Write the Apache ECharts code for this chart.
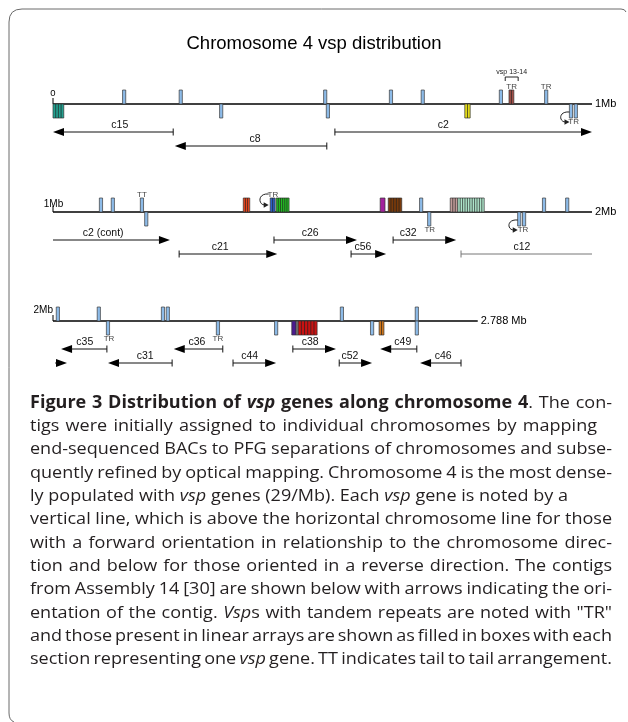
<!DOCTYPE html>
<html>
<head>
<meta charset="utf-8">
<title>Chromosome 4 vsp distribution</title>
<script src="https://cdn.jsdelivr.net/npm/echarts@6/dist/echarts.min.js"></script>
<style>
  html, body { margin: 0; padding: 0; background: #fff; }
  #chart { width: 628px; height: 722px; }
</style>
</head>
<body>
<div id="chart"></div>
<script>
// all positions are in kb along chromosome 4, drawn in rows of 1 Mb
const rowStarts = [0, 1000, 2000];
const rowEnds = [1000, 2000, 2788];
const rowStartLabels = ['0', '1Mb', '2Mb'];
const rowEndLabels = ['1Mb', '2Mb', '2.788 Mb'];

// single vsp genes, forward (above the line) and reverse (below)
const forwardGenes = [132, 237, 505, 627, 686, 831, 915,
                      1089, 1111, 1165, 1683, 1911, 1954,
                      2009, 2085, 2204, 2213, 2536, 2675];
const reverseGenes = [312, 510, 961, 970,
                      1173, 1698, 1865, 1874,
                      2102, 2306, 2414, 2592, 2675];

// linear arrays: [start, end, strand, number of genes]
const geneArrays = [
    [0, 20, 1, 4],
    [846, 855, -1, 2],
    [764, 774, 1, 2],
    [1353, 1365, -1, 3],
    [1403, 1412, -1, 2],
    [1414, 1438, -1, 6],
    [1607, 1616, -1, 1],
    [1622, 1647, -1, 5],
    [1737, 1751, -1, 3],
    [1751, 1800, -1, 11],
    [2443, 2451, 1, 1],
    [2451, 2455, 1, 1],
    [2455, 2490, 1, 6],
    [2605, 2614, 1, 2]
];
const arrayColors = ['#23a08f', '#a24f48', '#e4dc1a', '#e8451c', '#2c5fc4', '#22bd22', '#a3229c',
                     '#7a3a0a', '#c29c9a', '#aee6cb', '#4b1b8e', '#8a8a8a', '#c81212', '#d0771c'];

// contigs of Assembly 14: [name, start, end, direction, track, label at, arrowhead, end bar]
const contigs = [
    ['c15', 0, 223, -1, 2, 124, true, true],
    ['c8', 226, 508, -1, 3, 375, true, true],
    ['c2', 523, 1000, 1, 2, 724, true, true],
    ['c2 (cont)', 1000, 1217, 1, 2, 1093, true, false],
    ['c21', 1234, 1416, 1, 3, 1310, true, true],
    ['c26', 1410, 1564, 1, 2, 1477, true, true],
    ['c56', 1553, 1618, 1, 3, 1575, true, true],
    ['c32', 1631, 1748, 1, 2, 1659, true, true],
    ['c12', 1757, 2000, 1, 3, 1870, false, true],
    ['', 2004, 2026, 1, 3, null, true, false],
    ['c35', 2015, 2100, -1, 2, 2059, true, true],
    ['c31', 2102, 2221, -1, 3, 2171, true, true],
    ['c36', 2224, 2315, -1, 2, 2267, true, true],
    ['c44', 2334, 2414, 1, 3, 2365, true, true],
    ['c38', 2445, 2525, 1, 2, 2477, true, true],
    ['c52', 2531, 2592, 1, 3, 2551, true, true],
    ['c49', 2607, 2675, -1, 2, 2649, true, true],
    ['c46', 2681, 2757, -1, 3, 2724, true, true]
];
const grayContigs = ['c12'];

// tandem repeat / tail-to-tail notes: [text, kb, side]
const repeatLabels = [
    ['TR', 851, -1], ['TR', 915, -1], ['TR', 966, 1],
    ['TT', 1165, -1], ['TR', 1408, -1], ['TR', 1699, 1], ['TR', 1872, 1],
    ['TR', 2104, 1], ['TR', 2306, 1]
];
// curved arrows next to inverted repeats: [kb, side]
const turnArrows = [[961, 1], [1403, -1], [1865, 1]];
const bracketLabels = [['vsp 13-14', 839, 863]];

const captionLines = [
    [['b', 'Figure 3 Distribution of '], ['bi', 'vsp'], ['b', ' genes along chromosome 4'], ['n', '. The con-']],
    [['n', 'tigs were initially assigned to individual chromosomes by mapping']],
    [['n', 'end-sequenced BACs to PFG separations of chromosomes and subse-']],
    [['n', 'quently refined by optical mapping. Chromosome 4 is the most dense-']],
    [['n', 'ly populated with '], ['i', 'vsp'], ['n', ' genes (29/Mb). Each '], ['i', 'vsp'], ['n', ' gene is noted by a']],
    [['n', 'vertical line, which is above the horizontal chromosome line for those']],
    [['n', 'with a forward orientation in relationship to the chromosome direc-']],
    [['n', 'tion and below for those oriented in a reverse direction. The contigs']],
    [['n', 'from Assembly 14 [30] are shown below with arrows indicating the ori-']],
    [['n', 'entation of the contig. '], ['i', 'Vsp'], ['n', 's with tandem repeats are noted with "TR"']],
    [['n', 'and those present in linear arrays are shown as filled in boxes with each']],
    [['n', 'section representing one '], ['i', 'vsp'], ['n', ' gene. TT indicates tail to tail arrangement.']]
];
// right edge of justified lines, null where the line is set ragged
const captionRight = [612, 597, 612, 612, null, 612, 612, 612, 612, 612, 612, 612];

const chartFont = '"Liberation Sans", Arial, sans-serif';
const capFont = '"Open Sans", sans-serif';
const capSize = 17;
const rowLineY = [104, 212, 321];
const unit = 14;          // px per y unit (gene height)
const pxPerKb = 0.539;

function rowOf(kb) {
    return kb < 1000 ? 0 : (kb < 2000 ? 1 : 2);
}

function txt(x, y, text, size, align, vAlign, color) {
    return {
        type: 'text', x: x, y: y,
        style: {
            text: text, fontSize: size, fontFamily: chartFont, fill: color || '#000',
            align: align, textAlign: align, verticalAlign: vAlign, textVerticalAlign: vAlign
        }
    };
}

const chart = echarts.init(document.getElementById('chart'));

const grids = [], xAxes = [], yAxes = [], series = [];
rowStarts.forEach(function (start, r) {
    grids.push({
        left: 53, top: rowLineY[r] - 2 * unit, height: 5.5 * unit,
        width: (rowEnds[r] - start) * pxPerKb
    });
    xAxes.push({ type: 'value', gridIndex: r, min: start, max: rowEnds[r], show: false });
    yAxes.push({ type: 'value', gridIndex: r, min: -2, max: 3.5, inverse: true, show: false });

    const base = { type: 'custom', coordinateSystem: 'cartesian2d', xAxisIndex: r, yAxisIndex: r, silent: true, clip: false };

    // chromosome line
    series.push(Object.assign({}, base, {
        data: [[start, rowEnds[r]]],
        renderItem: function (params, api) {
            const a = api.coord([api.value(0), 0]);
            const b = api.coord([api.value(1), 0]);
            const startLabel = r === 0 ? txt(a[0], a[1] - 11, rowStartLabels[r], 9.5, 'center', 'middle')
                : r === 1 ? txt(a[0] + 0.5, a[1] - 8, rowStartLabels[r], 10, 'center', 'middle')
                : txt(a[0], a[1] - 11, rowStartLabels[r], 10, 'right', 'middle');
            return {
                type: 'group',
                children: [
                    { type: 'line', shape: { x1: a[0], y1: a[1], x2: b[0], y2: b[1] }, style: { stroke: '#000', lineWidth: 1.6 } },
                    { type: 'line', shape: { x1: a[0], y1: a[1] - 6, x2: a[0], y2: a[1] }, style: { stroke: '#000', lineWidth: 1 } },
                    startLabel,
                    txt(b[0] + 3, b[1], rowEndLabels[r], 11, 'left', 'middle')
                ]
            };
        }
    }));

    // single genes
    const genes = forwardGenes.filter(function (g) { return rowOf(g) === r; }).map(function (g) { return [g, -1]; })
        .concat(reverseGenes.filter(function (g) { return rowOf(g) === r; }).map(function (g) { return [g, 1]; }));
    series.push(Object.assign({}, base, {
        data: genes,
        renderItem: function (params, api) {
            const p = api.coord([api.value(0), 0]);
            const q = api.coord([api.value(0), api.value(1)]);
            return {
                type: 'rect',
                shape: { x: p[0] - 1.6, y: Math.min(p[1], q[1]), width: 3.2, height: Math.abs(q[1] - p[1]) },
                style: { fill: '#8dbbe8', stroke: '#3a3a3a', lineWidth: 0.7 }
            };
        }
    }));

    // linear arrays of genes
    const arrIdx = [];
    geneArrays.forEach(function (g, i) { if (rowOf(g[0]) === r) arrIdx.push(i); });
    series.push(Object.assign({}, base, {
        data: arrIdx.map(function (i) { return geneArrays[i]; }),
        renderItem: function (params, api) {
            const color = arrayColors[arrIdx[params.dataIndex]];
            const side = api.value(2), n = api.value(3);
            const a = api.coord([api.value(0), 0]);
            const b = api.coord([api.value(1), side]);
            const y0 = Math.min(a[1], b[1]), h = Math.abs(b[1] - a[1]);
            const w = b[0] - a[0];
            const children = [{
                type: 'rect', shape: { x: a[0], y: y0, width: w, height: h },
                style: { fill: color, stroke: '#333', lineWidth: 0.7 }
            }];
            for (let k = 1; k < n; k++) {
                const x = a[0] + w * k / n;
                children.push({ type: 'line', shape: { x1: x, y1: y0, x2: x, y2: y0 + h }, style: { stroke: '#222', lineWidth: 0.7 } });
            }
            return { type: 'group', children: children };
        }
    }));

    // contigs with orientation arrows
    const cIdx = [];
    contigs.forEach(function (c, i) { if (rowOf(c[1]) === r) cIdx.push(i); });
    series.push(Object.assign({}, base, {
        data: cIdx.map(function (i) { return [contigs[i][1], contigs[i][2], contigs[i][4]]; }),
        renderItem: function (params, api) {
            const c = contigs[cIdx[params.dataIndex]];
            const color = grayContigs.indexOf(c[0]) >= 0 ? '#777' : '#111';
            const a = api.coord([c[1], c[4]]);
            const b = api.coord([c[2], c[4]]);
            const y = a[1];
            let x1 = a[0], x2 = b[0];
            const children = [];
            const headLen = 11, headHalf = 4;
            if (c[6]) {
                if (c[3] > 0) {
                    children.push({ type: 'polygon', shape: { points: [[b[0], y], [b[0] - headLen, y - headHalf], [b[0] - headLen, y + headHalf]] }, style: { fill: '#000' } });
                    x2 = b[0] - headLen + 1;
                } else {
                    children.push({ type: 'polygon', shape: { points: [[a[0], y], [a[0] + headLen, y - headHalf], [a[0] + headLen, y + headHalf]] }, style: { fill: '#000' } });
                    x1 = a[0] + headLen - 1;
                }
            }
            if (c[7]) {
                const bx = c[3] > 0 ? a[0] : b[0];
                children.push({ type: 'line', shape: { x1: bx, y1: y - 3.5, x2: bx, y2: y + 3.5 }, style: { stroke: color, lineWidth: 1 } });
            }
            children.push({ type: 'line', shape: { x1: x1, y1: y, x2: x2, y2: y }, style: { stroke: color, lineWidth: 1 } });
            if (c[5] !== null) {
                const l = api.coord([c[5], c[4]]);
                children.push(txt(l[0], y - 6.5, c[0], 10.5, 'center', 'middle', '#111'));
            }
            return { type: 'group', children: children };
        }
    }));

    // TR / TT notes
    const notes = repeatLabels.filter(function (t) { return rowOf(t[1]) === r; });
    series.push(Object.assign({}, base, {
        data: notes.map(function (t) { return [t[1], t[2]]; }),
        renderItem: function (params, api) {
            const p = api.coord([api.value(0), 0]);
            const side = api.value(1);
            return txt(p[0], p[1] + side * 17.5, notes[params.dataIndex][0], 8, 'center', 'middle', '#444');
        }
    }));

    // curved arrows for inverted tandem repeats
    series.push(Object.assign({}, base, {
        data: turnArrows.filter(function (t) { return rowOf(t[0]) === r; }),
        renderItem: function (params, api) {
            const p = api.coord([api.value(0), 0]);
            const side = api.value(1);
            const yTop = side > 0 ? p[1] + 8 : p[1] - 18;
            const yBot = side > 0 ? p[1] + 18 : p[1] - 7;
            const xr = p[0] - 1.5, xl = p[0] - 11;
            return {
                type: 'group',
                children: [
                    { type: 'bezierCurve', shape: { x1: xr, y1: yTop, cpx1: xl - 2, cpy1: yTop - 1, cpx2: xl - 1, cpy2: yBot, x2: xr - 4, y2: yBot }, style: { stroke: '#222', lineWidth: 1, fill: null } },
                    { type: 'polygon', shape: { points: [[xr, yBot], [xr - 5, yBot - 2.8], [xr - 5, yBot + 2.8]] }, style: { fill: '#222' } }
                ]
            };
        }
    }));

    // bracket note over an inverted pair
    const brackets = bracketLabels.filter(function (t) { return rowOf(t[1]) === r; });
    series.push(Object.assign({}, base, {
        data: brackets.map(function (t) { return [t[1], t[2]]; }),
        renderItem: function (params, api) {
            const a = api.coord([api.value(0), 0]);
            const b = api.coord([api.value(1), 0]);
            const y = a[1] - 27;
            return {
                type: 'group',
                children: [
                    { type: 'polyline', shape: { points: [[a[0], y + 4], [a[0], y], [b[0], y], [b[0], y + 4]] }, style: { stroke: '#222', lineWidth: 1, fill: null } },
                    txt((a[0] + b[0]) / 2, y - 5, brackets[params.dataIndex][0], 7, 'center', 'middle', '#222')
                ]
            };
        }
    }));
});

// caption: words placed one by one so that lines can be justified
const measureCtx = document.createElement('canvas').getContext('2d');
function segFont(kind) {
    return (kind.indexOf('i') >= 0 ? 'italic ' : '') + (kind.indexOf('b') >= 0 ? 'bold ' : '') + capSize + 'px ' + capFont;
}
function measure(kind, t) {
    measureCtx.font = segFont(kind);
    return measureCtx.measureText(t).width;
}
function lineWords(segs) {
    const words = [[]];
    segs.forEach(function (s) {
        s[1].split(' ').forEach(function (p, j) {
            if (j > 0) words.push([]);
            if (p) words[words.length - 1].push([s[0], p]);
        });
    });
    return words.filter(function (w) { return w.length; });
}
function wordWidth(w) {
    return w.reduce(function (sum, p) { return sum + measure(p[0], p[1]); }, 0);
}
const spaceW = measure('n', ' ');
const capWords = captionLines.map(lineWords);
// glyph condensing: median of the ratios that make justified lines fit with natural spaces
const ratios = [];
capWords.forEach(function (words, i) {
    if (!captionRight[i]) return;
    const nat = words.reduce(function (s, w) { return s + wordWidth(w); }, 0) + spaceW * (words.length - 1);
    ratios.push((captionRight[i] - 30) / nat);
});
ratios.sort(function (a, b) { return a - b; });
const capScale = ratios[Math.floor(ratios.length / 2)];

const capRich = {
    n: { fontSize: capSize, fontFamily: capFont, fill: '#231f20', color: '#231f20' },
    b: { fontSize: capSize, fontFamily: capFont, fontWeight: 'bold', fill: '#231f20', color: '#231f20' },
    i: { fontSize: capSize, fontFamily: capFont, fontStyle: 'italic', fill: '#231f20', color: '#231f20' },
    bi: { fontSize: capSize, fontFamily: capFont, fontWeight: 'bold', fontStyle: 'italic', fill: '#231f20', color: '#231f20' }
};
const captionEls = [];
capWords.forEach(function (words, i) {
    const widths = words.map(function (w) { return wordWidth(w) * capScale; });
    const total = widths.reduce(function (a, b) { return a + b; }, 0);
    const gap = captionRight[i] ? (captionRight[i] - 30 - total) / (words.length - 1) : spaceW * capScale;
    let x = 30;
    words.forEach(function (w, j) {
        captionEls.push({
            type: 'text', x: x, y: 403 + i * 23.3, scaleX: capScale,
            style: {
                text: w.map(function (p) { return '{' + p[0] + '|' + p[1] + '}'; }).join(''),
                rich: capRich, verticalAlign: 'middle', textVerticalAlign: 'middle', align: 'left', textAlign: 'left'
            }
        });
        x += widths[j] + gap;
    });
});

const frameStyle = { stroke: '#6a6a6a', lineWidth: 1, fill: null };
const option = {
    animation: false,
    backgroundColor: '#fff',
    grid: grids,
    xAxis: xAxes,
    yAxis: yAxes,
    series: series,
    graphic: [
        { type: 'line', shape: { x1: 9, y1: 22, x2: 9, y2: 713 }, style: frameStyle },
        { type: 'bezierCurve', shape: { x1: 9, y1: 22, cpx1: 9, cpy1: 9, x2: 22, y2: 9 }, style: frameStyle },
        { type: 'line', shape: { x1: 22, y1: 9, x2: 621, y2: 9 }, style: frameStyle },
        { type: 'bezierCurve', shape: { x1: 621, y1: 9, cpx1: 625, cpy1: 9, x2: 626, y2: 12 }, style: frameStyle },
        { type: 'bezierCurve', shape: { x1: 9, y1: 713, cpx1: 9, cpy1: 720, x2: 14, y2: 722 }, style: frameStyle },
        {
            type: 'text', x: 314, y: 44,
            style: {
                text: 'Chromosome 4 vsp distribution', fontSize: 18.5, fontFamily: chartFont, fill: '#000',
                align: 'center', textAlign: 'center', verticalAlign: 'middle', textVerticalAlign: 'middle'
            }
        }
    ].concat(captionEls)
};
chart.setOption(option);
</script>
</body>
</html>
